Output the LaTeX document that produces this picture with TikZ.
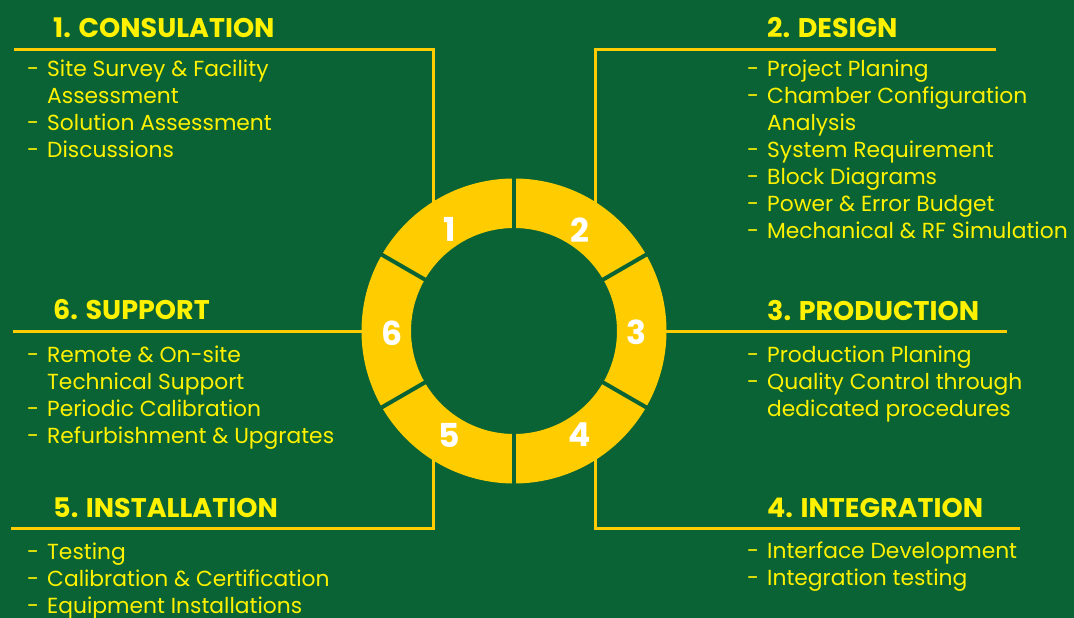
\documentclass[tikz,border=0pt]{standalone}
\usepackage{fontspec}
\setmainfont{Poppins}
\usepackage{array}
\usetikzlibrary{calc}
\definecolor{bggreen}{HTML}{0A6334}
\definecolor{ringyellow}{HTML}{FFCC00}
\definecolor{txtyellow}{HTML}{FFF200}
\tikzset{
  body/.style={anchor=base west, inner sep=0pt, text=txtyellow, font=\fontsize{21.8}{27}\selectfont},
  title/.style={anchor=base west, inner sep=0pt, text=txtyellow, font=\fontsize{27}{34}\selectfont\bfseries},
  num/.style={inner sep=0pt, text=white, font=\fontsize{33}{40}\selectfont\bfseries},
  conn/.style={draw=ringyellow, line width=3pt},
  gapline/.style={draw=bggreen, line width=4pt},
}
\newcommand{\lst}[1]{\begin{tabular}[t]{@{}p{20pt}@{}l@{}}#1\end{tabular}}
\begin{document}
\begin{tikzpicture}[x=1pt,y=-1pt]
\fill[bggreen] (0,0) rectangle (1074,618);
\useasboundingbox (0,0) rectangle (1074,618);
% connectors
\coordinate (tl) at (14,50);
\coordinate (tlc) at (433,50);
\coordinate (tlr) at (433,215);
\coordinate (tr) at (996,50);
\coordinate (trc) at (595,50);
\coordinate (trr) at (595,215);
\coordinate (ml) at (13,331);
\coordinate (mlr) at (375,331);
\coordinate (mr) at (1007,331);
\coordinate (mrr) at (655,331);
\coordinate (bl) at (11,528);
\coordinate (blc) at (433,528);
\coordinate (blr) at (433,450);
\coordinate (br) at (1020,528);
\coordinate (brc) at (595,528);
\coordinate (brr) at (595,450);
\draw[conn] (tl) -- (tlc) -- (tlr);
\draw[conn] (tr) -- (trc) -- (trr);
\draw[conn] (ml) -- (mlr);
\draw[conn] (mr) -- (mrr);
\draw[conn] (bl) -- (blc) -- (blr);
\draw[conn] (br) -- (brc) -- (brr);
% ring
\coordinate (c) at (514,331);
\fill[ringyellow, even odd rule] (c) circle[radius=152.5] (c) circle[radius=103];
\foreach \a in {30,90,150,210,270,330}
  \draw[gapline] ($(c)+(\a:100)$) -- ($(c)+(\a:156)$);
\node[num] (n1) at (450,229) {1};
\node[num] (n2) at (580,230) {2};
\node[num] (n3) at (636,332) {3};
\node[num] (n4) at (580,435) {4};
\node[num] (n5) at (449,435) {5};
\node[num] (n6) at (392,333) {6};
% titles
\node[title] (t1) at (53,38) {1. CONSULATION};
\node[title] (t2) at (767,38) {2. DESIGN};
\node[title] (t3) at (767,320) {3. PRODUCTION};
\node[title] (t4) at (767,517) {4. INTEGRATION};
\node[title] (t5) at (53,517) {5. INSTALLATION};
\node[title] (t6) at (53,319) {6. SUPPORT};
% bodies
\node[body] (b1) at (27,77) {\lst{-& Site Survey \& Facility\\ & Assessment\\ -& Solution Assessment\\ -& Discussions}};
\node[body] (b2) at (747,77) {\lst{-& Project Planing\\ -& Chamber Configuration\\ & Analysis\\ -& System Requirement\\ -& Block Diagrams\\ -& Power \& Error Budget\\ -& Mechanical \& RF Simulation}};
\node[body] (b3) at (747,362) {\lst{-& Production Planing\\ -& Quality Control through\\ & dedicated procedures}};
\node[body] (b4) at (747,558) {\lst{-& Interface Development\\ -& Integration testing}};
\node[body] (b5) at (27,559) {\lst{-& Testing\\ -& Calibration \& Certification\\ -& Equipment Installations}};
\node[body] (b6) at (27,362) {\lst{-& Remote \& On-site\\ & Technical Support\\ -& Periodic Calibration\\ -& Refurbishment \& Upgrates}};
\end{tikzpicture}
\end{document}
